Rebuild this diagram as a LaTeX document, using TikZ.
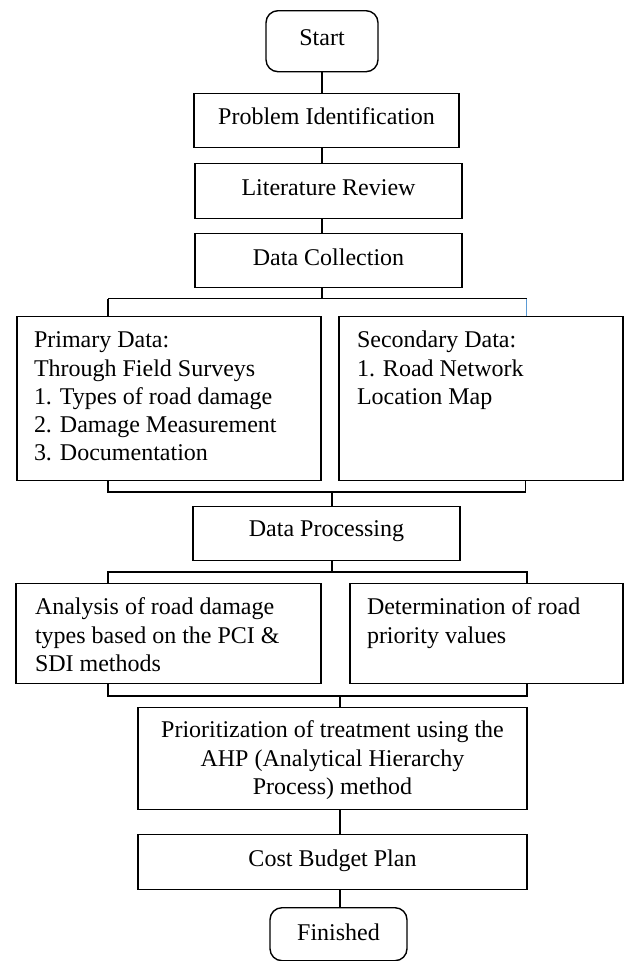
\documentclass[tikz,border=0pt]{standalone}
\usepackage{fontspec}
\newfontfamily\tnr{Liberation Serif}
\definecolor{linkblue}{RGB}{91,155,213}
\tikzset{
  box/.style={draw, line width=1.4pt, inner sep=0pt, align=center,
              font=\tnr\fontsize{24}{28.3}\selectfont},
  rbox/.style={box, rounded corners=12pt},
  conn/.style={line width=1.4pt},
  blueconn/.style={line width=1.1pt, draw=linkblue},
}
\newcommand{\lbox}[3]{\parbox[c][#1][t]{#2}{\raggedright #3}}
\begin{document}
\begin{tikzpicture}[x=1pt,y=-1pt]
\useasboundingbox (0,0) rectangle (625,961);

% top chain
\node[rbox, anchor=north, minimum width=112pt, text height=35pt, text depth=26pt] (start) at (322,10) {Start};
\node[box, anchor=north, minimum width=265pt, text height=31pt, text depth=23pt] (prob) at (326.5,93) {Problem Identification};
\node[box, anchor=north, minimum width=267pt, text height=32pt, text depth=23pt] (lit) at (328.5,163) {Literature Review};
\node[box, anchor=north, minimum width=267pt, text height=32pt, text depth=22pt] (dc) at (328.5,233) {Data Collection};

% data boxes
\node[box, anchor=north, inner xsep=17pt] (prim) at (169,316)
  {\lbox{164pt}{270pt}{\rule{0pt}{31pt}Primary Data:\\Through Field Surveys\\1. Types of road damage\\2. Damage Measurement\\3. Documentation}};
\node[box, anchor=north, inner xsep=18pt] (sec) at (481,316)
  {\lbox{164pt}{248pt}{\rule{0pt}{31pt}Secondary Data:\\1. Road Network\\Location Map}};

\node[box, anchor=north, minimum width=267pt, text height=30pt, text depth=24pt] (dp) at (326.5,506) {Data Processing};

\node[box, anchor=north, inner xsep=19pt] (ana) at (168.5,583)
  {\lbox{100pt}{267pt}{\rule{0pt}{31pt}Analysis of road damage\\types based on the PCI \&\\SDI methods}};
\node[box, anchor=north, inner xsep=17pt] (det) at (486.5,583)
  {\lbox{100pt}{239pt}{\rule{0pt}{31pt}Determination of road\\priority values}};

\node[box, anchor=north, inner xsep=0pt] (prio) at (332.5,707)
  {\parbox[c][102pt][t]{389pt}{\centering\rule{0pt}{30pt}Prioritization of treatment using the\\AHP (Analytical Hierarchy\\Process) method}};

\node[box, anchor=north, minimum width=389pt, text height=32pt, text depth=23pt] (cost) at (332.5,834) {Cost Budget Plan};
\node[rbox, anchor=north, minimum width=137pt, text height=33pt, text depth=20pt] (fin) at (338.5,907) {Finished};

% bracket coordinates
\coordinate (s1) at (322,0);
\coordinate (b1l) at (108,298.5);
\coordinate (b1r) at (526.5,298.5);
\coordinate (b2l) at (108,492);
\coordinate (b2r) at (525.5,492);
\coordinate (s2) at (332,0);
\coordinate (b3l) at (108,572);
\coordinate (b3r) at (527,572);
\coordinate (b4l) at (108,696);
\coordinate (b4r) at (527,696);
\coordinate (s3) at (340,0);

% connectors top chain
\draw[conn] (start.south) -- (start.south |- prob.north);
\draw[conn] (s1 |- prob.south) -- (s1 |- lit.north);
\draw[conn] (s1 |- lit.south) -- (s1 |- dc.north);
\draw[conn] (s1 |- dc.south) -- (s1 |- b1l);
\draw[conn] (b1l) -- (b1r);
\draw[conn] (b1l) -- (b1l |- prim.north);
\draw[blueconn] (b1r) -- (b1r |- sec.north);

% bracket under data boxes
\draw[conn] (b2l |- prim.south) -- (b2l) -- (b2r) -- (b2r |- sec.south);
\draw[conn] (s2 |- b2l) -- (s2 |- dp.north);

% bracket under data processing
\draw[conn] (s2 |- dp.south) -- (s2 |- b3l);
\draw[conn] (b3l |- ana.north) -- (b3l) -- (b3r) -- (b3r |- det.north);

% bracket under analysis
\draw[conn] (b4l |- ana.south) -- (b4l) -- (b4r) -- (b4r |- det.south);
\draw[conn] (s3 |- b4l) -- (s3 |- prio.north);
\draw[conn] (s3 |- prio.south) -- (s3 |- cost.north);
\draw[conn] (s3 |- cost.south) -- (s3 |- fin.north);
\end{tikzpicture}
\end{document}
